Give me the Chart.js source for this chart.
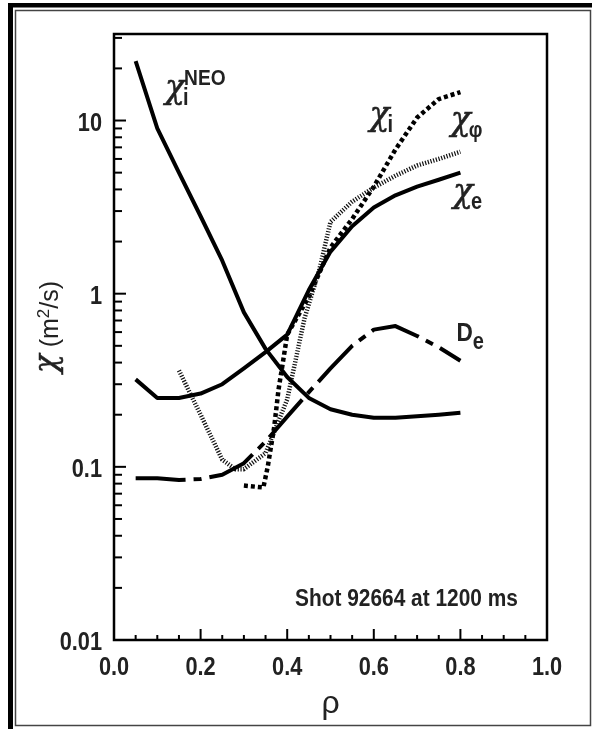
<!DOCTYPE html>
<html>
<head>
<meta charset="utf-8">
<script src="https://cdn.jsdelivr.net/npm/chart.js@4/dist/chart.umd.min.js"></script>
<style>
  body { margin: 0; background: #fff; }
  #wrap { width: 592px; height: 729px; }
</style>
</head>
<body>
<div id="wrap"><canvas id="chiChart" width="592" height="729"></canvas></div>
<script>
// radial grid shared by chi_i^NEO, chi_e and D_e
const rhoGrid = [0.05, 0.1, 0.15, 0.2, 0.25, 0.3, 0.35, 0.4, 0.45, 0.5, 0.55, 0.6, 0.65, 0.7, 0.75, 0.8];
const chiNeo  = [22, 9.0, 5.0, 2.8, 1.55, 0.78, 0.48, 0.33, 0.25, 0.215, 0.2, 0.192, 0.192, 0.196, 0.2, 0.205];
const chiE    = [0.32, 0.25, 0.25, 0.265, 0.3, 0.37, 0.46, 0.58, 1.05, 1.75, 2.45, 3.15, 3.7, 4.15, 4.55, 5.0];
const dE      = [0.086, 0.086, 0.084, 0.085, 0.09, 0.105, 0.14, 0.195, 0.27, 0.37, 0.5, 0.62, 0.65, 0.57, 0.49, 0.41];

// chi_i (thick dots)
const rhoChiI = [0.3, 0.345, 0.355, 0.37, 0.38, 0.39, 0.4, 0.45, 0.5, 0.55, 0.6, 0.65, 0.7, 0.75, 0.8];
const chiI    = [0.078, 0.076, 0.1, 0.17, 0.28, 0.4, 0.58, 0.96, 1.85, 2.7, 4.15, 6.8, 10.4, 13.3, 14.6];

// chi_phi (thin dots)
const rhoChiPhi = [0.15, 0.2, 0.25, 0.28, 0.3, 0.35, 0.4, 0.44, 0.475, 0.5, 0.55, 0.6, 0.65, 0.7, 0.75, 0.8];
const chiPhi    = [0.36, 0.2, 0.11, 0.097, 0.097, 0.12, 0.245, 0.72, 1.4, 2.6, 3.4, 4.1, 4.8, 5.5, 6.0, 6.6];

const xTicks = [0, 0.2, 0.4, 0.6, 0.8, 1.0];
const yDecades = [0.01, 0.1, 1, 10];
const yDecadeLabels = ['0.01', '0.1', '1', '10'];

const FONT = "'Liberation Sans', Arial, sans-serif";
const CHI_FONT = "italic 33px 'DejaVu Serif', serif";
const SQUEEZE = 0.87; // condensed look of the original lettering

const pts = (xs, ys) => xs.map((x, i) => ({ x: x, y: ys[i] }));

// draws text squeezed horizontally, returns drawn width
function narrowText(ctx, text, x, y, font, align) {
  ctx.font = font;
  const w = ctx.measureText(text).width * SQUEEZE;
  let x0 = x;
  if (align === 'right') x0 = x - w;
  if (align === 'center') x0 = x - w / 2;
  ctx.save();
  ctx.translate(x0, y);
  ctx.scale(SQUEEZE, 1);
  ctx.textAlign = 'left';
  ctx.fillText(text, 0, 0);
  ctx.restore();
  return w;
}

// chi glyph, a little heavier than the plain italic
function chiText(ctx, x, y, font) {
  ctx.font = font || CHI_FONT;
  ctx.lineWidth = 0.5;
  ctx.strokeStyle = ctx.fillStyle;
  ctx.fillText('χ', x, y);
  ctx.strokeText('χ', x, y);
  return ctx.measureText('χ').width;
}

// frame, box, inside ticks, tick labels, curve labels and axis titles
const decorPlugin = {
  id: 'decor',
  beforeDraw(chart) {
    const ctx = chart.ctx;
    ctx.save();
    ctx.fillStyle = '#fff';
    ctx.fillRect(0, 0, chart.width, chart.height);
    ctx.fillStyle = '#000';
    ctx.fillRect(8, 3, 584, 4.5);
    ctx.fillRect(8, 3, 5, 726);
    ctx.strokeStyle = '#444';
    ctx.lineWidth = 1.5;
    ctx.strokeRect(15.5, 10.5, 575, 715);
    ctx.restore();
  },
  afterDraw(chart) {
    const ctx = chart.ctx;
    const a = chart.chartArea;
    const xs = chart.scales.x, ys = chart.scales.y;
    ctx.save();
    ctx.textBaseline = 'alphabetic';

    // y ticks, inside
    ctx.strokeStyle = '#000';
    ctx.lineWidth = 2;
    for (let e = -2; e <= 1; e++) {
      for (let m = 1; m <= 9; m++) {
        const v = m * Math.pow(10, e);
        if (v > ys.max) continue;
        const py = ys.getPixelForValue(v);
        const len = m === 1 ? 12 : 8;
        ctx.beginPath();
        ctx.moveTo(a.left, py);
        ctx.lineTo(a.left + len, py);
        ctx.stroke();
      }
    }
    // x ticks, inside
    for (let i = 1; i < 20; i++) {
      const px = xs.getPixelForValue(i * 0.05);
      const len = i % 4 === 0 ? 11 : 5;
      ctx.beginPath();
      ctx.moveTo(px, a.bottom);
      ctx.lineTo(px, a.bottom - len);
      ctx.stroke();
    }

    // plot box
    ctx.lineWidth = 2.5;
    ctx.strokeRect(a.left, a.top, a.right - a.left, a.bottom - a.top);

    // tick labels from the scales
    ctx.fillStyle = '#222';
    const tickFont = 'bold 25px ' + FONT;
    ys.ticks.forEach(t => {
      narrowText(ctx, yDecadeLabels[yDecades.indexOf(t.value)], a.left - 12, ys.getPixelForValue(t.value) + 10, tickFont, 'right');
    });
    xs.ticks.forEach(t => {
      narrowText(ctx, t.value.toFixed(1), xs.getPixelForValue(t.value), a.bottom + 35, tickFont, 'center');
    });

    // curve labels
    const label = (rho, val, sub, sup, subFont) => {
      let x = xs.getPixelForValue(rho);
      const y = ys.getPixelForValue(val);
      x += chiText(ctx, x, y) - 2;
      if (sub) narrowText(ctx, sub, x, y + 7, subFont || 'bold 23px ' + FONT);
      if (sup) narrowText(ctx, sup, x + 1, y - 13, 'bold 22px ' + FONT);
    };
    label(0.118, 13.5, 'i', 'NEO');
    label(0.59, 9.4, 'i', null);
    label(0.778, 8.8, 'φ', null, 'bold 22px ' + FONT);
    label(0.783, 3.4, 'e', null);
    const dx = xs.getPixelForValue(0.791);
    const dy = ys.getPixelForValue(0.53);
    const dw = narrowText(ctx, 'D', dx, dy, 'bold 26px ' + FONT);
    narrowText(ctx, 'e', dx + dw, dy + 8, 'bold 23px ' + FONT);

    narrowText(ctx, 'Shot 92664 at 1200 ms', xs.getPixelForValue(0.418), ys.getPixelForValue(0.0157), 'bold 24px ' + FONT);

    // x title
    ctx.font = '32px ' + FONT;
    ctx.textAlign = 'center';
    ctx.fillText('ρ', (a.left + a.right) / 2, 713);

    // y title, rotated
    ctx.translate(58, 327);
    ctx.rotate(-Math.PI / 2);
    ctx.textAlign = 'left';
    const chiFont = "italic 31px 'DejaVu Serif', serif";
    const parts = [
      [' (m', "25px 'Liberation Sans'", 0],
      ['2', "17px 'Liberation Sans'", -9],
      ['/s)', "25px 'Liberation Sans'", 0]
    ];
    ctx.font = chiFont;
    let w = ctx.measureText('χ').width;
    parts.forEach(p => { ctx.font = p[1]; w += ctx.measureText(p[0]).width; });
    let tx = -w / 2;
    tx += chiText(ctx, tx, -2, chiFont);
    parts.forEach(p => {
      ctx.font = p[1];
      ctx.fillText(p[0], tx, p[2]);
      tx += ctx.measureText(p[0]).width;
    });
    ctx.restore();
  }
};

const common = { fill: false, pointRadius: 0, tension: 0, borderColor: '#000', borderCapStyle: 'butt', borderJoinStyle: 'round' };

new Chart(document.getElementById('chiChart'), {
  type: 'line',
  data: {
    datasets: [
      Object.assign({ label: 'chi_i NEO', data: pts(rhoGrid, chiNeo), borderWidth: 4 }, common),
      Object.assign({ label: 'chi_e', data: pts(rhoGrid, chiE), borderWidth: 4 }, common),
      Object.assign({ label: 'D_e', data: pts(rhoGrid, dE), borderWidth: 4, borderDash: [50, 8, 8, 8] }, common),
      Object.assign({ label: 'chi_phi', data: pts(rhoChiPhi, chiPhi), borderWidth: 4.5, borderDash: [1.2, 1.6] }, common, { borderColor: '#111' }),
      Object.assign({ label: 'chi_i', data: pts(rhoChiI, chiI), borderWidth: 4.5, borderDash: [4, 3] }, common)
    ]
  },
  options: {
    responsive: false,
    animation: false,
    devicePixelRatio: 1,
    layout: { padding: { left: 0, top: 34, right: 45, bottom: 0 } },
    plugins: { legend: { display: false }, tooltip: { enabled: false } },
    scales: {
      x: {
        type: 'linear',
        min: 0,
        max: 1,
        afterFit: s => { s.height = 89; },
        afterBuildTicks: s => { s.ticks = xTicks.map(v => ({ value: v })); },
        grid: { display: false, drawTicks: false },
        border: { display: false },
        ticks: { display: false }
      },
      y: {
        type: 'logarithmic',
        min: 0.01,
        max: 31.6,
        afterFit: s => { s.width = 114; },
        afterBuildTicks: s => { s.ticks = yDecades.map(v => ({ value: v })); },
        grid: { display: false, drawTicks: false },
        border: { display: false },
        ticks: { display: false, autoSkip: false }
      }
    }
  },
  plugins: [decorPlugin]
});
</script>
</body>
</html>
